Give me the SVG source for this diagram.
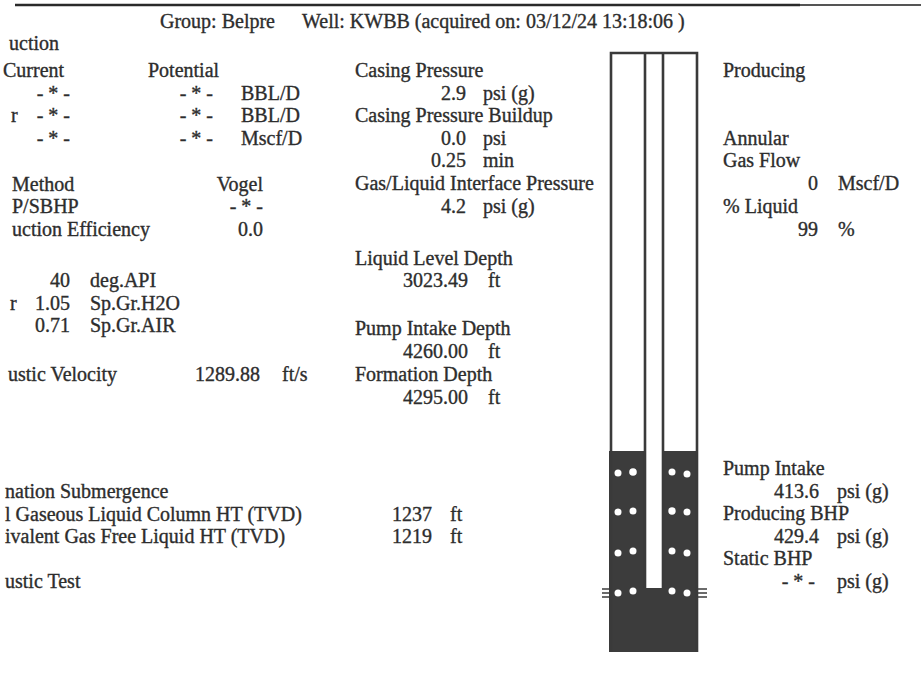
<svg xmlns="http://www.w3.org/2000/svg" width="921" height="693" viewBox="0 0 921 693">
<style>
text{font-family:"Liberation Serif","Times New Roman",serif;font-size:20px;fill:#2d2d2d;stroke:#2d2d2d;stroke-width:0.35}
.e{text-anchor:end}
.w{stroke:#3a3a3a;stroke-width:2.6;fill:none}
.dot{fill:#fff}
.perf{stroke:#3a3a3a;stroke-width:1.5}
</style>
<rect width="921" height="693" fill="#fff"/>
<g id="top-rule">
<line x1="15" y1="5" x2="800" y2="5" stroke="#2a2a2a" stroke-width="2.5"/>
<line x1="800" y1="5" x2="921" y2="5" stroke="#555" stroke-width="1.8"/>
</g>
<g id="header">
<text x="160" y="28">Group: Belpre</text>
<text x="302" y="28">Well: KWBB (acquired on: 03/12/24 13:18:06 )</text>
</g>
<g id="production">
<text x="9" y="50">uction</text>
<text x="3" y="77">Current</text>
<text x="148" y="77">Potential</text>
<text class="e" x="70" y="99.5">- * -</text>
<text class="e" x="213" y="99.5">- * -</text>
<text x="241" y="99.5">BBL/D</text>
<text x="11" y="122">r</text>
<text class="e" x="70" y="122">- * -</text>
<text class="e" x="213" y="122">- * -</text>
<text x="241" y="122">BBL/D</text>
<text class="e" x="70" y="144.5">- * -</text>
<text class="e" x="213" y="144.5">- * -</text>
<text x="241" y="144.5">Mscf/D</text>
<text x="12" y="191">Method</text>
<text class="e" x="263" y="191">Vogel</text>
<text x="12" y="213">P/SBHP</text>
<text class="e" x="263" y="213">- * -</text>
<text x="12" y="236">uction Efficiency</text>
<text class="e" x="263" y="236">0.0</text>
</g>
<g id="fluid">
<text class="e" x="70" y="287">40</text>
<text x="90" y="287">deg.API</text>
<text x="10" y="310">r</text>
<text class="e" x="70" y="310">1.05</text>
<text x="90" y="310">Sp.Gr.H2O</text>
<text class="e" x="70" y="332">0.71</text>
<text x="90" y="332">Sp.Gr.AIR</text>
<text x="8" y="381">ustic Velocity</text>
<text class="e" x="260" y="381">1289.88</text>
<text x="282" y="381">ft/s</text>
</g>
<g id="pressures">
<text x="355" y="77">Casing Pressure</text>
<text class="e" x="466" y="99.5">2.9</text>
<text x="483" y="99.5">psi (g)</text>
<text x="355" y="122">Casing Pressure Buildup</text>
<text class="e" x="466" y="144.5">0.0</text>
<text x="483" y="144.5">psi</text>
<text class="e" x="466" y="167">0.25</text>
<text x="483" y="167">min</text>
<text x="355" y="190">Gas/Liquid Interface Pressure</text>
<text class="e" x="466" y="213">4.2</text>
<text x="483" y="213">psi (g)</text>
</g>
<g id="depths">
<text x="355" y="265">Liquid Level Depth</text>
<text class="e" x="468" y="287">3023.49</text>
<text x="488" y="287">ft</text>
<text x="355" y="335">Pump Intake Depth</text>
<text class="e" x="468" y="358">4260.00</text>
<text x="488" y="358">ft</text>
<text x="355" y="381">Formation Depth</text>
<text class="e" x="468" y="404">4295.00</text>
<text x="488" y="404">ft</text>
</g>
<g id="submergence">
<text x="5" y="498">nation Submergence</text>
<text x="5" y="521">l Gaseous Liquid Column HT (TVD)</text>
<text class="e" x="432" y="521">1237</text>
<text x="450" y="521">ft</text>
<text x="5" y="543">ivalent Gas Free Liquid HT (TVD)</text>
<text class="e" x="432" y="543">1219</text>
<text x="450" y="543">ft</text>
<text x="5" y="588">ustic Test</text>
</g>
<g id="wellbore">
<path d="M609,451 H645 V588 H663 V451 H698 V652 H609 Z" fill="#3c3c3c"/>
<path class="w" d="M611,652 V53 H697 V652"/>
<line class="w" x1="645" y1="53" x2="645" y2="588"/>
<line class="w" x1="663" y1="53" x2="663" y2="588"/>
<g class="dot">
<circle cx="618" cy="473" r="3.5"/><circle cx="633" cy="472" r="3.8"/><circle cx="672" cy="472" r="3.5"/><circle cx="687" cy="474" r="3.5"/>
<circle cx="618" cy="512" r="3.5"/><circle cx="633" cy="511" r="3.5"/><circle cx="672" cy="511" r="3.7"/><circle cx="687" cy="512" r="3.5"/>
<circle cx="618" cy="553" r="3.5"/><circle cx="633" cy="551" r="3.5"/><circle cx="672" cy="551" r="3.5"/><circle cx="687" cy="553" r="3.5"/>
<circle cx="618" cy="593" r="3.5"/><circle cx="633" cy="591" r="3.5"/><circle cx="672" cy="591" r="3.5"/><circle cx="687" cy="593" r="3.5"/>
</g>
<g class="perf">
<line x1="602" y1="589" x2="611" y2="589"/><line x1="602" y1="593" x2="611" y2="593"/><line x1="602" y1="597" x2="611" y2="597"/>
<line x1="697" y1="589" x2="707" y2="589"/><line x1="697" y1="593" x2="707" y2="593"/><line x1="697" y1="597" x2="707" y2="597"/>
</g>
</g>
<g id="annulus">
<text x="723" y="77">Producing</text>
<text x="723" y="144.5">Annular</text>
<text x="723" y="167">Gas Flow</text>
<text class="e" x="818" y="190">0</text>
<text x="838" y="190">Mscf/D</text>
<text x="723" y="213">% Liquid</text>
<text class="e" x="818" y="236">99</text>
<text x="838" y="236">%</text>
</g>
<g id="bottomhole">
<text x="723" y="475">Pump Intake</text>
<text class="e" x="819" y="498">413.6</text>
<text x="837" y="498">psi (g)</text>
<text x="723" y="520">Producing BHP</text>
<text class="e" x="819" y="543">429.4</text>
<text x="837" y="543">psi (g)</text>
<text x="723" y="565">Static BHP</text>
<text class="e" x="815" y="588">- * -</text>
<text x="837" y="588">psi (g)</text>
</g>
</svg>
